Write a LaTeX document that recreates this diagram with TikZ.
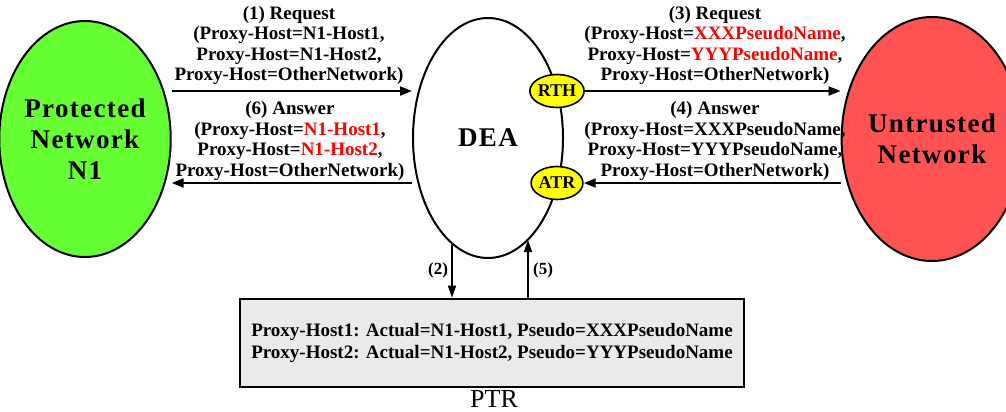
\documentclass[tikz,border=0pt]{standalone}
\usepackage{fontspec}
\setmainfont{Liberation Serif}
\usetikzlibrary{shapes.geometric,arrows.meta}
\definecolor{netgreen}{RGB}{102,255,51}
\definecolor{netred}{RGB}{255,82,82}
\definecolor{tagyellow}{RGB}{255,255,0}
\definecolor{boxgray}{RGB}{234,234,234}
\definecolor{hot}{RGB}{255,0,0}
\begin{document}
\begin{tikzpicture}[x=1pt,y=-1pt,
  net/.style={ellipse,draw=black,line width=2pt,inner sep=0pt,align=center,
    font=\fontsize{27}{31}\selectfont\bfseries\addfontfeature{LetterSpace=5}},
  tag/.style={ellipse,draw=black,line width=1.6pt,fill=tagyellow,inner sep=0pt,
    minimum width=50pt,minimum height=33pt,font=\fontsize{18}{18}\selectfont\bfseries},
  msg/.style={align=center,inner sep=0pt,font=\fontsize{19}{20.5}\selectfont\bfseries},
  hArrow/.style={line width=2pt,-{Triangle[length=12pt,width=9pt]}},
  vArrow/.style={line width=1.6pt,-{Triangle[length=12pt,width=8pt]}},
  small/.style={inner sep=0pt,font=\fontsize{17}{17}\selectfont\bfseries}]
\useasboundingbox (0,0) rectangle (1006,412);

\node[net,fill=netgreen,minimum width=152pt,minimum height=236pt] (green) at (85,139)
  {Protected\\Network\\N1};
\node[net,fill=white,minimum width=150pt,minimum height=240pt] (dea) at (488,138) {DEA};
\node[net,fill=netred,minimum width=148pt,minimum height=244pt] (red) at (932,139)
  {Untrusted\\Network};

\node[tag] (rth) at (557,91) {RTH};
\node[tag] (atr) at (557,183) {ATR};

\node[msg] (m1) at (289,45.5) {(1) Request\\(Proxy-Host=N1-Host1,\\Proxy-Host=N1-Host2,\\Proxy-Host=OtherNetwork)};
\node[msg] (m6) at (290,141) {(6) Answer\\(Proxy-Host=\textcolor{hot}{N1-Host1},\\Proxy-Host=\textcolor{hot}{N1-Host2},\\Proxy-Host=OtherNetwork)};
\node[msg] (m3) at (715,45.5) {(3) Request\\(Proxy-Host=\textcolor{hot}{XXXPseudoName},\\Proxy-Host=\textcolor{hot}{YYYPseudoName},\\Proxy-Host=OtherNetwork)};
\node[msg] (m4) at (715,141) {(4) Answer\\(Proxy-Host=XXXPseudoName,\\Proxy-Host=YYYPseudoName,\\Proxy-Host=OtherNetwork)};

\draw[hArrow] (green.east |- rth.center) -- (dea.west |- rth.center);
\draw[hArrow] (dea.west |- atr.center) -- (green.east |- atr.center);
\draw[hArrow] (rth.east) -- (red.west |- rth.center);
\draw[hArrow] (red.west |- atr.center) -- (atr.east);

\node[rectangle,draw=black,line width=2.6pt,fill=boxgray,minimum width=504pt,minimum height=88pt,
  align=center,inner sep=0pt,font=\fontsize{19}{22}\selectfont\bfseries] (ptr) at (492,343)
  {Proxy-Host1: Actual=N1-Host1, Pseudo=XXXPseudoName\\Proxy-Host2: Actual=N1-Host2, Pseudo=YYYPseudoName};
\node[inner sep=0pt,font=\fontsize{26}{26}\selectfont] (ptrlabel) at (494,399) {PTR};

\coordinate (out2) at (452,243);
\coordinate (in5) at (528,240);
\draw[vArrow] (out2) -- (out2 |- ptr.north);
\draw[vArrow] (in5 |- ptr.north) -- (in5);
\node[small] (l2) at (438,270) {(2)};
\node[small] (l5) at (543,270) {(5)};
\end{tikzpicture}
\end{document}
